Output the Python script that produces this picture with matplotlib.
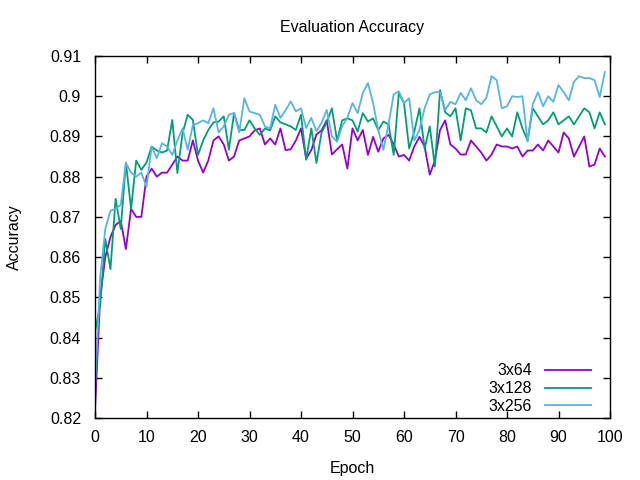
import numpy as np
import matplotlib
matplotlib.use("Agg")
from matplotlib import pyplot as plt

plt.rcParams['font.family'] = ['Liberation Sans', 'DejaVu Sans']

epochs = np.arange(100)

acc_3x64 = [
    0.822, 0.850, 0.860, 0.865, 0.868, 0.869, 0.862, 0.872, 0.870, 0.870,
    0.880, 0.882, 0.880, 0.881, 0.881, 0.883, 0.885, 0.884, 0.884, 0.889,
    0.884, 0.881, 0.884, 0.889, 0.890, 0.888, 0.884, 0.885, 0.889, 0.8895,
    0.890, 0.8915, 0.892, 0.888, 0.8895, 0.888, 0.892, 0.8866, 0.8868, 0.889,
    0.892, 0.8845, 0.8866, 0.8905, 0.8915, 0.894, 0.8855, 0.8868, 0.888, 0.882,
    0.892, 0.889, 0.8916, 0.8854, 0.8899, 0.8862, 0.8895, 0.8904, 0.888, 0.885,
    0.8854, 0.884, 0.8875, 0.8899, 0.8875, 0.8805, 0.884, 0.8916, 0.894, 0.888,
    0.887, 0.8855, 0.8855, 0.889, 0.8875, 0.886, 0.884, 0.8855, 0.888, 0.8875,
    0.8875, 0.887, 0.8875, 0.885, 0.8865, 0.8865, 0.888, 0.8865, 0.889, 0.8875,
    0.886, 0.891, 0.8895, 0.885, 0.8875, 0.890, 0.8825, 0.883, 0.887, 0.885,
]

acc_3x128 = [
    0.8415, 0.848, 0.8645, 0.857, 0.8745, 0.867, 0.8835, 0.872, 0.884, 0.8817,
    0.8835, 0.8875, 0.8865, 0.886, 0.8865, 0.8941, 0.8809, 0.8908, 0.8954, 0.8941,
    0.8854, 0.889, 0.8916, 0.8935, 0.8937, 0.895, 0.8867, 0.8958, 0.8916, 0.8916,
    0.894, 0.892, 0.8904, 0.892, 0.8915, 0.895, 0.8935, 0.893, 0.8925, 0.8916,
    0.8954, 0.8842, 0.892, 0.8834, 0.891, 0.8935, 0.897, 0.889, 0.894, 0.8945,
    0.894, 0.8912, 0.8958, 0.8937, 0.8945, 0.8916, 0.8937, 0.893, 0.8854, 0.9008,
    0.8983, 0.887, 0.8912, 0.897, 0.887, 0.8925, 0.8825, 0.9015, 0.896, 0.895,
    0.897, 0.889, 0.897, 0.8965, 0.892, 0.892, 0.891, 0.895, 0.8925, 0.890,
    0.892, 0.890, 0.896, 0.892, 0.889, 0.897, 0.895, 0.893, 0.894, 0.896,
    0.893, 0.894, 0.895, 0.893, 0.895, 0.897, 0.896, 0.892, 0.896, 0.893,
]

acc_3x256 = [
    0.827, 0.855, 0.867, 0.8715, 0.872, 0.873, 0.8834, 0.881, 0.880, 0.881,
    0.8775, 0.8875, 0.8846, 0.8883, 0.8875, 0.8854, 0.889, 0.892, 0.8867, 0.8929,
    0.8933, 0.894, 0.8933, 0.897, 0.891, 0.8925, 0.8954, 0.8958, 0.891, 0.8995,
    0.8962, 0.8958, 0.8954, 0.8925, 0.892, 0.8979, 0.8946, 0.8965, 0.8987, 0.8962,
    0.897, 0.8921, 0.8946, 0.8913, 0.8934, 0.8966, 0.890, 0.8887, 0.8925, 0.8946,
    0.8983, 0.8958, 0.9008, 0.9033, 0.8983, 0.8916, 0.8867, 0.893, 0.9005, 0.9012,
    0.8983, 0.8995, 0.889, 0.8916, 0.897, 0.9005, 0.901, 0.901, 0.8966, 0.8986,
    0.898, 0.9008, 0.899, 0.902, 0.899, 0.898, 0.8996, 0.905, 0.904, 0.897,
    0.8975, 0.900, 0.8998, 0.900, 0.8887, 0.898, 0.901, 0.8975, 0.900, 0.8986,
    0.9028, 0.901, 0.899, 0.9036, 0.905, 0.9045, 0.9045, 0.904, 0.8998, 0.906,
]

labels = ["3x64", "3x128", "3x256"]
colours = ["#9400d3", "#009e73", "#56b4e9"]
fs = 11.5

fig = plt.figure(figsize=(6.4, 4.8), dpi=100)
ax = fig.add_axes([95/640, 1-418/480, 515/640, 362/480])

for ys, lab, col in zip([acc_3x64, acc_3x128, acc_3x256], labels, colours):
    ax.plot(epochs, ys, color=col, lw=1.3, label=lab)

ax.set_xlim(0, 100)
ax.set_ylim(0.82, 0.91)
ax.set_xticks(np.arange(0, 101, 10))
yt = np.round(np.arange(0.82, 0.9101, 0.01), 2)
ax.set_yticks(yt)
ax.set_yticklabels(["%g" % v for v in yt])
ax.tick_params(direction="in", top=True, right=True, labelsize=fs, length=5, width=1)
ax.tick_params(axis="y", pad=10)
ax.tick_params(axis="x", pad=9)
for s in ax.spines.values():
    s.set_linewidth(1.0)

ax.set_title("Evaluation Accuracy", fontsize=fs, pad=17)
ax.set_xlabel("Epoch", fontsize=fs, labelpad=11)
ax.set_ylabel("Accuracy", fontsize=fs, labelpad=20)

ax.legend(loc="lower right", bbox_to_anchor=(591/640, 1-414/480), bbox_transform=fig.transFigure,
          frameon=False, markerfirst=False, fontsize=fs, handlelength=2.9,
          handletextpad=0.8, labelspacing=0.18, borderpad=0, borderaxespad=0)

fig.savefig("out.png", dpi=100)
